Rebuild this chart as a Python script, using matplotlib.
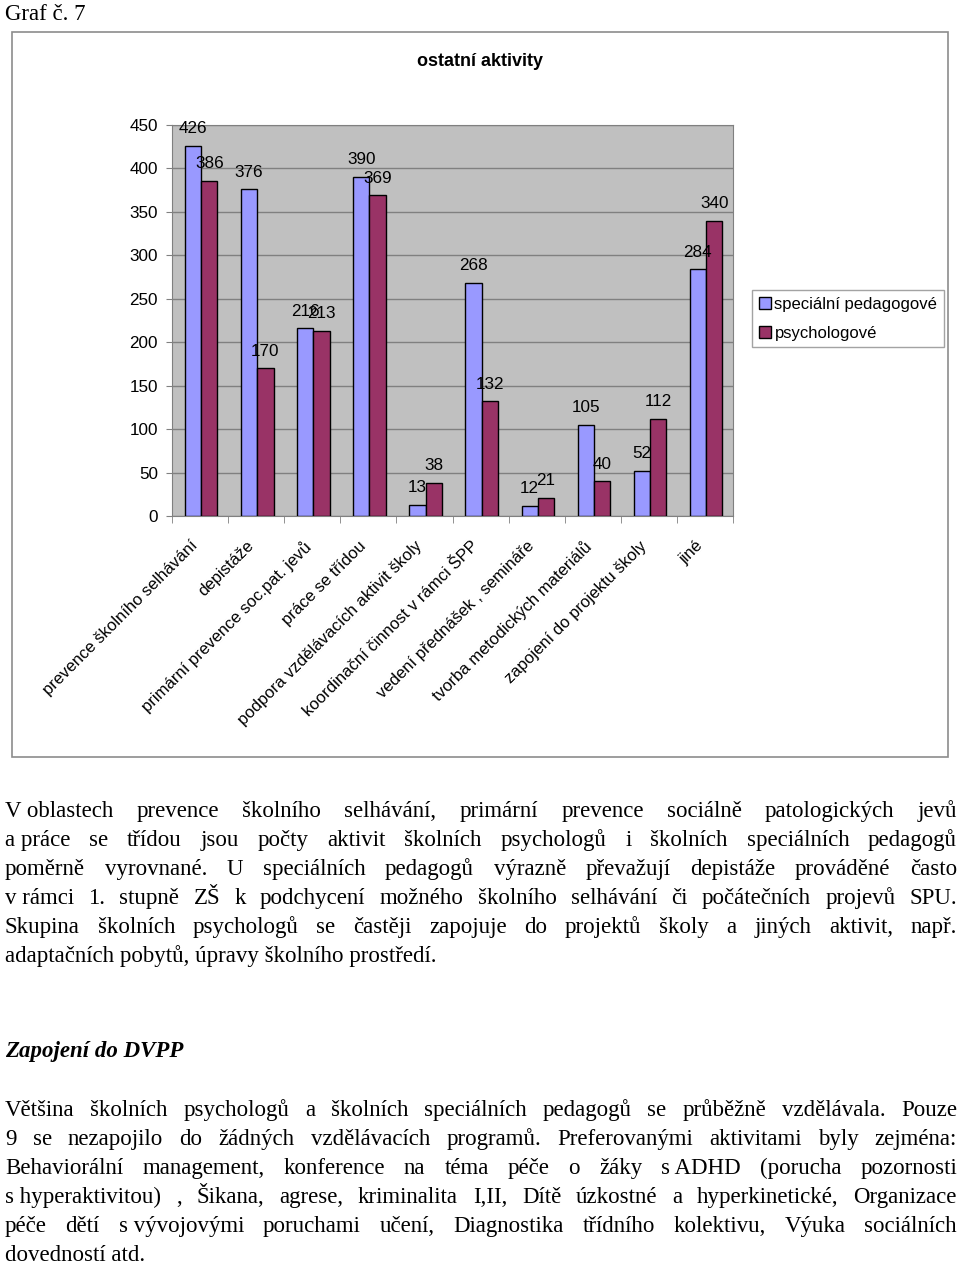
import numpy as np
import matplotlib.pyplot as plt
from matplotlib.patches import Rectangle
from matplotlib.transforms import ScaledTranslation

categories = [
    "prevence školního selhávání",
    "depistáže",
    "primární prevence soc.pat. jevů",
    "práce se třídou",
    "podpora vzdělávacích aktivit školy",
    "koordinační činnost v rámci ŠPP",
    "vedení přednášek , semináře",
    "tvorba metodických materiálů",
    "zapojení do projektu školy",
    "jiné",
]
spec_ped = [426, 376, 216, 390, 13, 268, 12, 105, 52, 284]
psycho = [386, 170, 213, 369, 38, 132, 21, 40, 112, 340]
series_names = ["speciální pedagogové", "psychologové"]
y_ticks = [0, 50, 100, 150, 200, 250, 300, 350, 400, 450]

para1 = [
    "V\u00a0oblastech prevence školního selhávání, primární prevence sociálně patologických jevů",
    "a\u00a0práce se třídou jsou počty aktivit školních psychologů i školních speciálních pedagogů",
    "poměrně vyrovnané. U speciálních pedagogů výrazně převažují depistáže prováděné často",
    "v\u00a0rámci 1. stupně ZŠ k podchycení možného školního selhávání či počátečních projevů SPU.",
    "Skupina školních psychologů se častěji zapojuje do projektů školy a jiných aktivit, např.",
    "adaptačních pobytů, úpravy školního prostředí.",
]
heading = "Zapojení do DVPP"
para2 = [
    "Většina školních psychologů a školních speciálních pedagogů se průběžně vzdělávala. Pouze",
    "9 se nezapojilo do žádných vzdělávacích programů. Preferovanými aktivitami byly zejména:",
    "Behaviorální management, konference na téma péče o žáky s\u00a0ADHD (porucha pozornosti",
    "s\u00a0hyperaktivitou) , Šikana, agrese, kriminalita I,II, Dítě úzkostné a hyperkinetické, Organizace",
    "péče dětí s\u00a0vývojovými poruchami učení, Diagnostika třídního kolektivu, Výuka sociálních",
    "dovedností atd.",
]

W, H = 960, 1263
fig = plt.figure(figsize=(W / 100, H / 100), dpi=100)
plt.rcParams["font.family"] = ["Liberation Sans", "DejaVu Sans"]


def fx(px):
    return px / W


def fy(py):
    return 1 - py / H


# chart frame
fig.patches.append(Rectangle((fx(12), fy(757)), fx(948) - fx(12), fy(32) - fy(757),
                             transform=fig.transFigure, fill=False,
                             edgecolor="#8c8c8c", lw=1.2))

ax = fig.add_axes([fx(172), fy(516), fx(733) - fx(172), fy(125) - fy(516)])
ax.set_facecolor("#c0c0c0")

x = np.arange(len(categories))
w = 0.29
b1 = ax.bar(x - w / 2 + 0.02, spec_ped, w, color="#9999ff", edgecolor="black",
            lw=1, label=series_names[0], zorder=3)
b2 = ax.bar(x + w / 2 + 0.02, psycho, w, color="#993366", edgecolor="black",
            lw=1, label=series_names[1], zorder=3)
ax.bar_label(b1, padding=7, fontsize=12.3, zorder=4)
ax.bar_label(b2, padding=7, fontsize=12.3, zorder=4)

ax.set_ylim(0, 450)
ax.set_xlim(-0.5, len(categories) - 0.5)
ax.set_yticks(y_ticks)
ax.tick_params(axis="y", labelsize=12.3, length=4, color="#808080", pad=6)
ax.yaxis.grid(True, color="#808080", lw=1, zorder=0)
for s in ax.spines.values():
    s.set_color("#808080")

ax.set_xticks(x)
ax.set_xticks(np.arange(len(categories) + 1) - 0.5, minor=True)
ax.tick_params(axis="x", which="major", length=0, pad=16)
ax.tick_params(axis="x", which="minor", length=5, color="#808080")
ax.set_xticklabels(categories, rotation=45, ha="right", va="top",
                   rotation_mode="anchor", fontsize=12)
for lab in ax.get_xticklabels():
    lab.set_transform(lab.get_transform() + ScaledTranslation(-0.1, 0, fig.dpi_scale_trans))

fig.text(fx(480), fy(62), "ostatní aktivity", ha="center", va="center",
         fontsize=13, fontweight="bold")

leg = fig.legend(handles=[b1, b2], loc="upper left",
                 bbox_to_anchor=(fx(752), fy(290)), fontsize=12,
                 frameon=True, fancybox=False, handlelength=0.75,
                 handleheight=0.75, handletextpad=0.2, borderaxespad=0,
                 labelspacing=0.85, borderpad=0.4)
leg.get_frame().set_edgecolor("#8c8c8c")
leg.get_frame().set_linewidth(1)

# text of the page
serif = ["Liberation Serif", "DejaVu Serif"]
fs = 16.5
renderer = fig.canvas.get_renderer()


def word_w(word, **kw):
    t = fig.text(0, 0, word.replace("\u00a0", " "), fontsize=fs, family=serif, **kw)
    bb = t.get_window_extent(renderer)
    t.remove()
    return bb.width


def draw_line(line, base_y, justify, left=5, right=957):
    words = line.split(" ")
    if not justify:
        fig.text(fx(left), fy(base_y), line.replace("\u00a0", " "), fontsize=fs,
                 family=serif, va="baseline", ha="left")
        return
    widths = [word_w(wd) for wd in words]
    gap = (right - left - sum(widths)) / (len(words) - 1)
    xp = left
    for wd, ww in zip(words, widths):
        fig.text(fx(xp), fy(base_y), wd.replace("\u00a0", " "), fontsize=fs,
                 family=serif, va="baseline", ha="left")
        xp += ww + gap


fig.text(fx(5), fy(20), "Graf č. 7", fontsize=fs, family=serif, va="baseline")

for i, line in enumerate(para1):
    draw_line(line, 817 + 29 * i, i < len(para1) - 1)

fig.text(fx(5), fy(1057), heading, fontsize=fs, family=serif, va="baseline",
         fontweight="bold", fontstyle="italic")

for i, line in enumerate(para2):
    draw_line(line, 1116 + 29 * i, i < len(para2) - 1)

fig.savefig("out.png", dpi=100)
